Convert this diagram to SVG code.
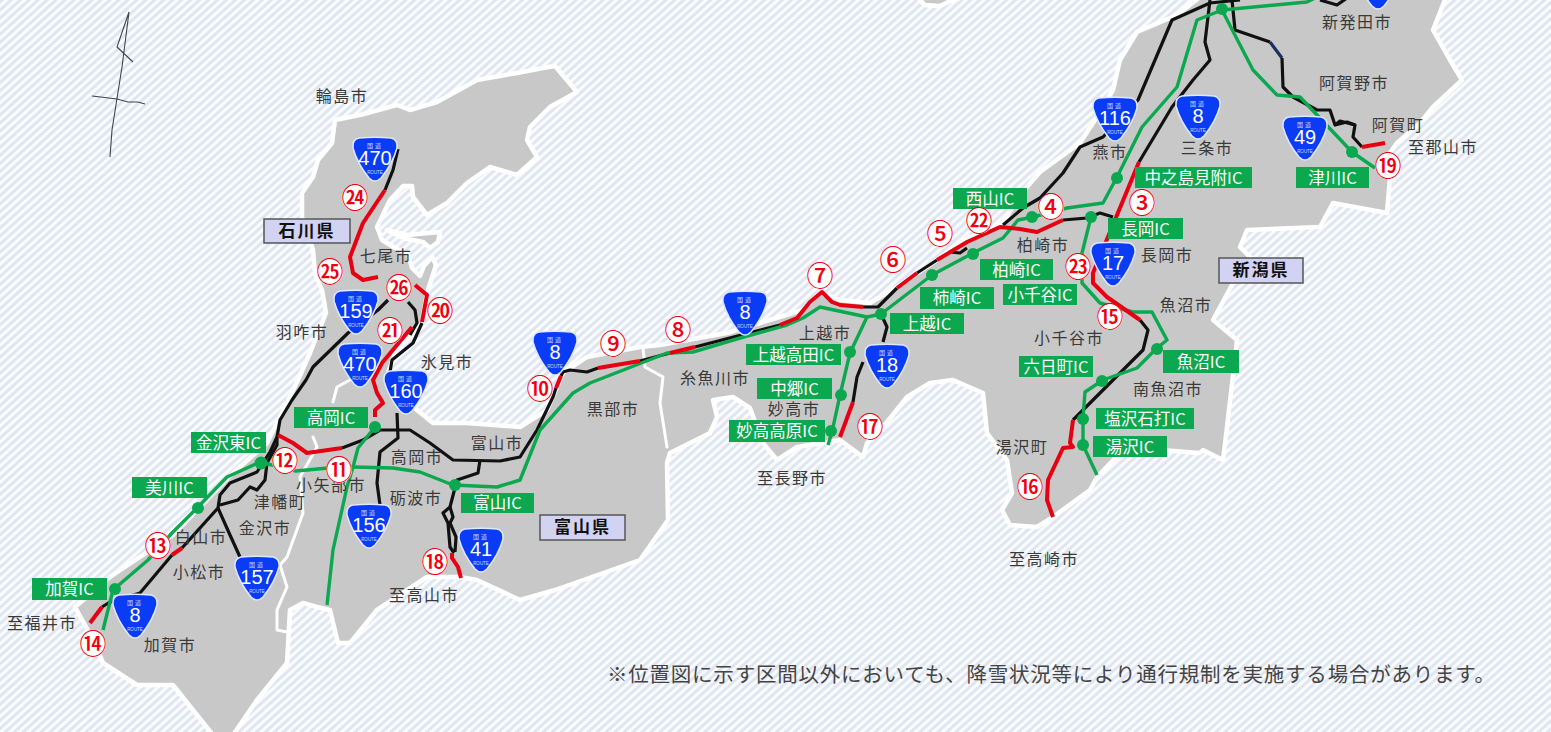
<svg xmlns="http://www.w3.org/2000/svg" width="1551" height="732" viewBox="0 0 1551 732">
<style>
.land{fill:#c8c8c8;stroke:#fff;stroke-width:4.500;stroke-linejoin:round}
.border{fill:none;stroke:#fff;stroke-width:3;stroke-linejoin:round;stroke-linecap:round}
.rd{fill:none;stroke-linejoin:round;stroke-linecap:butt}
.k{stroke:#111;stroke-width:3.2}
.r{stroke:#e60012;stroke-width:4}
.g{stroke:#0ba84f;stroke-width:3.4}
.dot{fill:#0ba84f}
.ic rect{fill:#0ba84f}
.ic text{fill:#fff;font:16.5px "Noto Sans CJK JP","Noto Sans",sans-serif;text-anchor:middle}
.city{fill:#3a3a3a;font:16px "Noto Sans CJK JP",sans-serif;text-anchor:middle;letter-spacing:1.5px}
.pref rect{fill:#d2d2f2;stroke:#555;stroke-width:1.5}
.pref text{fill:#111;font:bold 17px "Noto Sans CJK JP",sans-serif;text-anchor:middle;letter-spacing:2px}
.num circle{fill:#fff}
.num text{fill:#f00010;font:500 27px "Noto Sans CJK JP",sans-serif;text-anchor:middle}
.sh use{fill:#0a3cf5;stroke:#dfe8ff;stroke-width:1.5}
.sh text{fill:#fff;font-family:"Liberation Sans",sans-serif;text-anchor:middle}
.sh .n{font-size:20px}
.sh .t{font:6px "Noto Sans CJK JP",sans-serif;letter-spacing:2px;fill:#cfdcff}
.sh .b{font-size:4.5px;fill:#cfdcff}
</style>
<defs>
<pattern id="hatch" width="6" height="6" patternUnits="userSpaceOnUse" patternTransform="rotate(-42)">
<rect width="6" height="6" fill="#fafbfd"/><rect width="6" height="3" fill="#dfe6f2"/>
</pattern>
<path id="shield" d="M-16,-22 Q0,-23.500 16,-22 Q23,-20.500 22,-12 Q18,3 6,18 Q0,24 -6,18 Q-18,3 -22,-12 Q-23,-20.500 -16,-22Z"/>
</defs>
<rect width="1551" height="732" fill="url(#hatch)"/>

<g id="land">
<path class="land" d="M917,-3 L925,5 L940,6 L948,2 L963,-3Z"/>
<path class="land" d="M213,735 L173,685 L137,685 L103,663 L96,645 L75,607 L110,577 L173,535 L233,473 L267,443 L277,423 L298,380 L310,353 L326,313 L322,290 L315,273 L313,250 L302,217 L302,193 L313,177 L318,160 L332,143 L335,120 L360,115 L397,105 L410,110 L437,102 L477,80 L517,73 L543,68 L555,66 L577,92 L550,107 L530,127 L527,140 L537,157 L517,175 L490,167 L467,183 L447,203 L427,215 L413,197 L412,186 L403,186 L390,200 L377,227 L382,240 L395,248 L408,254 L412,268 L420,276 L424,266 L432,257 L436,265 L427,293 L422,323 L397,347 L388,373 L400,395 L417,410 L433,423 L467,423 L520,427 L547,410 L563,373 L587,357 L640,347 L660,345 L727,333 L803,310 L820,293 L840,300 L870,303 L897,287 L937,260 L963,240 L1003,223 L1020,195 L1040,172 L1080,143 L1093,123 L1113,90 L1120,60 L1137,32 L1177,15 L1200,-3 L1446,-3 L1433,30 L1450,60 L1462,80 L1433,107 L1420,123 L1397,143 L1387,157 L1390,177 L1387,213 L1333,203 L1320,227 L1247,230 L1240,247 L1260,267 L1233,283 L1213,320 L1237,340 L1236,350 L1227,427 L1223,460 L1203,450 L1200,453 L1120,447 L1120,453 L1097,477 L1090,490 L1053,517 L1037,527 L1010,525 L1002,510 L1012,493 L1007,460 L987,433 L983,393 L953,380 L930,383 L907,397 L883,427 L867,443 L863,457 L840,440 L797,447 L777,460 L763,443 L750,408 L733,397 L713,400 L717,417 L710,433 L670,453 L667,463 L668,520 L640,560 L555,590 L520,600 L477,580 L460,577 L427,577 L377,610 L350,643 L338,643 L330,610 L317,607 L303,603 L290,610 L287,663 L257,700 L233,735Z"/>
<path class="land" d="M387,230 L407,235 L440,232 L438,242 L430,248 L423,242 L403,238Z"/>
<path class="border" d="M333,402 L337,387 L350,380 M313,437 L317,447 L300,477 L303,513 L287,557 L280,565 L287,587 L277,610 L277,630 L287,632 M643,348 L645,367 L663,377 L660,403 L667,447"/>
</g>

<g id="connectors">
<g class="rd k">
<path d="M102,607 L110,602 L140,593 L172,555"/>
<path d="M182,548 L218,508 L220,495 L230,483 L257,472 L270,452 L277,437 L280,420 L292,400 L306,380 L313,367 L348,333 L378,310 L388,300"/>
<path d="M408,302 L415,310 L417,323 L410,335"/>
<path d="M422,323 L413,343 L392,360 L390,372"/>
<path d="M398,149 L393,170 L385,190"/>
<path d="M277,437 L277,445 L267,463 L265,480 L257,490 L250,487 L238,500 L220,505"/>
<path d="M218,508 L230,535 L240,557"/>
<path d="M342,448 L363,440 L380,430 L410,430 L430,443 L453,460 L500,461 L520,457 L537,430 L553,397 L556,388"/>
<path d="M561,376 L563,372 L570,370 L587,372 L598,368"/>
<path d="M640,361 L670,353"/>
<path d="M695,347 L780,325"/>
<path d="M863,307 L878,307 L897,288"/>
<path d="M917,273 L937,260"/>
<path d="M950,252 L960,253 L967,248"/>
<path d="M1063,220 L1087,218 L1100,213 L1113,217"/>
<path d="M1003,225 L1023,208 L1040,198 L1063,173 L1080,147 L1103,137 L1138,100 L1172,20 L1210,3 L1240,0"/>
<path d="M1139,162 L1172,107 L1193,80 L1210,60 L1205,42 L1210,0"/>
<path d="M1140,320 L1148,330 L1143,350 L1110,383 L1073,420"/>
<path d="M1232,0 L1235,30 L1270,42"/>
<path d="M1282,58 L1283,87 L1293,97 L1317,110 L1330,110 L1335,125 L1347,122 L1355,125 L1353,137 L1362,147"/>
<path d="M1335,125 L1340,121 L1355,125"/>
<path d="M1320,0 L1337,5 L1347,-2"/>
<path d="M397,413 L398,438 L380,452 L377,483 L380,505"/>
<path d="M480,460 L478,473 L457,480 L450,507 L443,513 L448,523 L450,547 L454,553"/>
<path d="M450,507 L453,517 L450,523 L456,537 L455,552"/>
<path d="M881,314 L887,327 L883,342"/>
<path d="M863,362 L857,377 L853,402"/>
</g>
<path class="rd" stroke="#1a3060" stroke-width="3.200" d="M1270,42 L1282,58"/>
<g class="rd g">
<path d="M103,630 L113,590 L148,560 L172,533 L197,508 L227,477 L260,462 L296,471 L339,467 L353,467 L393,468 L420,472 L453,485 L497,487 L520,480 L540,430 L573,393 L590,383 L667,353 L693,352 L740,338 L787,325 L803,318 L820,307 L867,317 L881,314 L932,275 L973,253 L1003,238 L1018,220 L1033,217 L1067,208 L1103,203 L1117,177 L1142,127 L1177,87 L1197,20 L1222,10 L1307,2 L1315,-2"/>
<path d="M375,427 L358,448 L353,467 L347,487 L333,550 L327,605"/>
<path d="M867,317 L850,353 L840,395 L832,432 L828,445"/>
<path d="M1091,217 L1082,253 L1082,283 L1100,303 L1133,312 L1152,312 L1167,340 L1157,348 L1137,368 L1103,380 L1085,392 L1083,418 L1083,445 L1097,475"/>
<path d="M1222,10 L1253,70 L1277,95 L1300,97 L1352,152 L1375,168"/>
</g>
<g class="rd r">
<path d="M90,623 L102,607"/>
<path d="M172,555 L182,548"/>
<path d="M278,435 L293,443 L307,453 L342,448"/>
<path d="M415,285 L427,295 L422,322"/>
<path d="M412,327 L382,363 L373,380 L377,393 L383,403 L375,410 L375,417"/>
<path d="M385,190 L363,223 L350,257 L353,273 L363,280 L378,277"/>
<path d="M556,388 L561,376"/>
<path d="M598,368 L640,361"/>
<path d="M670,353 L695,347"/>
<path d="M780,325 L797,318 L810,302 L822,292 L832,302 L840,305 L863,307"/>
<path d="M897,288 L917,273"/>
<path d="M937,260 L967,242 L1000,227 L1020,229 L1037,232 L1063,220"/>
<path d="M1139,162 L1093,273 L1093,283 L1107,297 L1140,320"/>
<path d="M1073,420 L1070,443 L1073,447 L1063,448 L1048,480 L1047,500 L1053,517"/>
<path d="M853,402 L840,437"/>
<path d="M452,553 L452,558 L458,567 L461,578"/>
<path d="M1362,147 L1385,143"/>
</g>
</g>

<g id="north-arrow" fill="none" stroke="#444" stroke-width="1.100">
<path d="M110,157 L112,130 L122,67 L129,12 L117,47 L133,62"/>
<path d="M92,96 L117,99 L128,102 L138,102 L145,104"/>
</g>

<g id="ic-dots" class="dot">
<circle cx="375" cy="427" r="6"/><circle cx="261" cy="463" r="6.500"/><circle cx="198" cy="508" r="6"/><circle cx="115" cy="589" r="6"/><circle cx="455" cy="485" r="6"/><circle cx="881" cy="314" r="6"/><circle cx="932" cy="275" r="6"/><circle cx="850" cy="352" r="6"/><circle cx="841" cy="395" r="6"/><circle cx="831" cy="431" r="6"/><circle cx="1032" cy="217" r="6"/><circle cx="973" cy="254" r="6"/><circle cx="1091" cy="217" r="6"/><circle cx="1117" cy="178" r="6"/><circle cx="1157" cy="349" r="6"/><circle cx="1102" cy="381" r="6"/><circle cx="1083" cy="419" r="6"/><circle cx="1083" cy="445" r="6"/><circle cx="1352" cy="152" r="6"/><circle cx="1222" cy="9" r="6"/>
</g>

<g id="shields">
<g class="sh" transform="translate(375,160)"><use href="#shield"/><text class="t" y="-12">国道</text><text class="n" y="5">470</text><text class="b" y="14">ROUTE</text></g>
<g class="sh" transform="translate(356,313)"><use href="#shield"/><text class="t" y="-12">国道</text><text class="n" y="5">159</text><text class="b" y="14">ROUTE</text></g>
<g class="sh" transform="translate(360,366)"><use href="#shield"/><text class="t" y="-12">国道</text><text class="n" y="5">470</text><text class="b" y="14">ROUTE</text></g>
<g class="sh" transform="translate(406,393)"><use href="#shield"/><text class="t" y="-12">国道</text><text class="n" y="5">160</text><text class="b" y="14">ROUTE</text></g>
<g class="sh" transform="translate(135,617)"><use href="#shield"/><text class="t" y="-12">国道</text><text class="n" y="5">8</text><text class="b" y="14">ROUTE</text></g>
<g class="sh" transform="translate(257,579)"><use href="#shield"/><text class="t" y="-12">国道</text><text class="n" y="5">157</text><text class="b" y="14">ROUTE</text></g>
<g class="sh" transform="translate(369,527)"><use href="#shield"/><text class="t" y="-12">国道</text><text class="n" y="5">156</text><text class="b" y="14">ROUTE</text></g>
<g class="sh" transform="translate(481,551)"><use href="#shield"/><text class="t" y="-12">国道</text><text class="n" y="5">41</text><text class="b" y="14">ROUTE</text></g>
<g class="sh" transform="translate(555,354)"><use href="#shield"/><text class="t" y="-12">国道</text><text class="n" y="5">8</text><text class="b" y="14">ROUTE</text></g>
<g class="sh" transform="translate(745,314)"><use href="#shield"/><text class="t" y="-12">国道</text><text class="n" y="5">8</text><text class="b" y="14">ROUTE</text></g>
<g class="sh" transform="translate(887,367)"><use href="#shield"/><text class="t" y="-12">国道</text><text class="n" y="5">18</text><text class="b" y="14">ROUTE</text></g>
<g class="sh" transform="translate(1113,265)"><use href="#shield"/><text class="t" y="-12">国道</text><text class="n" y="5">17</text><text class="b" y="14">ROUTE</text></g>
<g class="sh" transform="translate(1115,120)"><use href="#shield"/><text class="t" y="-12">国道</text><text class="n" y="5">116</text><text class="b" y="14">ROUTE</text></g>
<g class="sh" transform="translate(1198,118)"><use href="#shield"/><text class="t" y="-12">国道</text><text class="n" y="5">8</text><text class="b" y="14">ROUTE</text></g>
<g class="sh" transform="translate(1305,139)"><use href="#shield"/><text class="t" y="-12">国道</text><text class="n" y="5">49</text><text class="b" y="14">ROUTE</text></g>
<g class="sh" transform="translate(1378,-12)"><use href="#shield"/></g>
</g>

<g id="ic-labels">
<g class="ic" id="ic-takaoka"><rect x="294" y="407" width="74" height="21"/><text x="331" y="423.500">高岡IC</text></g>
<g class="ic" id="ic-kanazawahigashi"><rect x="191" y="432" width="75" height="21"/><text x="228.500" y="448.500">金沢東IC</text></g>
<g class="ic" id="ic-mikawa"><rect x="132" y="477" width="75" height="21"/><text x="169.500" y="493.500">美川IC</text></g>
<g class="ic" id="ic-kaga"><rect x="32" y="578" width="75" height="22"/><text x="69.500" y="595">加賀IC</text></g>
<g class="ic" id="ic-toyama"><rect x="461" y="493" width="73" height="20"/><text x="497.500" y="509">富山IC</text></g>
<g class="ic" id="ic-joetsu"><rect x="890" y="313" width="74" height="21"/><text x="927" y="329.500">上越IC</text></g>
<g class="ic" id="ic-kakizaki"><rect x="920" y="287" width="74" height="22"/><text x="957" y="304">柿崎IC</text></g>
<g class="ic" id="ic-joetsutakada"><rect x="746" y="344" width="95" height="21"/><text x="793.500" y="360.500">上越高田IC</text></g>
<g class="ic" id="ic-nakago"><rect x="757" y="378" width="75" height="21"/><text x="794.500" y="394.500">中郷IC</text></g>
<g class="ic" id="ic-myoko"><rect x="729" y="420" width="96" height="22"/><text x="777" y="437">妙高高原IC</text></g>
<g class="ic" id="ic-nishiyama"><rect x="953" y="188" width="74" height="21"/><text x="990" y="204.500">西山IC</text></g>
<g class="ic" id="ic-kashiwazaki"><rect x="980" y="259" width="73" height="21"/><text x="1016.500" y="275.500">柏崎IC</text></g>
<g class="ic" id="ic-ojiya"><rect x="1003" y="284" width="74" height="21"/><text x="1040" y="300.500">小千谷IC</text></g>
<g class="ic" id="ic-nagaoka"><rect x="1108" y="218" width="75" height="21"/><text x="1145.500" y="234.500">長岡IC</text></g>
<g class="ic" id="ic-nakanoshima"><rect x="1135" y="167" width="117" height="21"/><text x="1193.500" y="183.500">中之島見附IC</text></g>
<g class="ic" id="ic-uonuma"><rect x="1163" y="350" width="76" height="23"/><text x="1201" y="367.500">魚沼IC</text></g>
<g class="ic" id="ic-muikamachi"><rect x="1019" y="356" width="74" height="21"/><text x="1056" y="372.500">六日町IC</text></g>
<g class="ic" id="ic-shiozawa"><rect x="1096" y="408" width="98" height="21"/><text x="1145" y="424.500">塩沢石打IC</text></g>
<g class="ic" id="ic-yuzawa"><rect x="1093" y="436" width="74" height="21"/><text x="1130" y="452.500">湯沢IC</text></g>
<g class="ic" id="ic-tsugawa"><rect x="1296" y="167" width="73" height="21"/><text x="1332.500" y="183.500">津川IC</text></g>
</g>

<g id="cities" class="city">
<text x="342" y="102">輪島市</text><text x="386" y="262">七尾市</text><text x="302" y="338">羽咋市</text><text x="447" y="368">氷見市</text><text x="497" y="449">富山市</text><text x="417" y="463">高岡市</text><text x="331" y="491">小矢部市</text><text x="416" y="504">砺波市</text><text x="280" y="508">津幡町</text><text x="265" y="534">金沢市</text><text x="201" y="543">白山市</text><text x="199" y="578">小松市</text><text x="42" y="629">至福井市</text><text x="170" y="651">加賀市</text><text x="424" y="601">至高山市</text><text x="613" y="415">黒部市</text><text x="715" y="384">糸魚川市</text><text x="825" y="339">上越市</text><text x="794" y="415">妙高市</text><text x="792" y="484">至長野市</text><text x="1043" y="251">柏崎市</text><text x="1069" y="344">小千谷市</text><text x="1186" y="311">魚沼市</text><text x="1168" y="395">南魚沼市</text><text x="1022" y="453">湯沢町</text><text x="1044" y="565">至高崎市</text><text x="1167" y="261">長岡市</text><text x="1110" y="158">燕市</text><text x="1207" y="154">三条市</text><text x="1357" y="28">新発田市</text><text x="1354" y="89">阿賀野市</text><text x="1398" y="131">阿賀町</text><text x="1443" y="153">至郡山市</text>
</g>

<g id="prefs">
<g class="pref" id="pref-ishikawa"><rect x="264" y="219" width="86" height="24"/><text x="307" y="237">石川県</text></g>
<g class="pref" id="pref-niigata"><rect x="1219" y="258" width="84" height="25"/><text x="1261" y="276">新潟県</text></g>
<g class="pref" id="pref-toyama"><rect x="540" y="515" width="85" height="25"/><text x="582.500" y="533">富山県</text></g>
</g>

<g id="numbers" class="num">
<g><circle cx="1142" cy="203" r="13"/><text x="1142" y="213">③</text></g>
<g><circle cx="1051" cy="207" r="13"/><text x="1051" y="217">④</text></g>
<g><circle cx="940" cy="234" r="13"/><text x="940" y="244">⑤</text></g>
<g><circle cx="893" cy="260" r="13"/><text x="893" y="270">⑥</text></g>
<g><circle cx="820" cy="276" r="13"/><text x="820" y="286">⑦</text></g>
<g><circle cx="678" cy="330" r="13"/><text x="678" y="340">⑧</text></g>
<g><circle cx="613" cy="344" r="13"/><text x="613" y="354">⑨</text></g>
<g><circle cx="540" cy="389" r="13"/><text x="540" y="399">⑩</text></g>
<g><circle cx="339" cy="470" r="13"/><text x="339" y="480">⑪</text></g>
<g><circle cx="285" cy="461" r="13"/><text x="285" y="471">⑫</text></g>
<g><circle cx="158" cy="546" r="13"/><text x="158" y="556">⑬</text></g>
<g><circle cx="93" cy="644" r="13"/><text x="93" y="654">⑭</text></g>
<g><circle cx="1110" cy="317" r="13"/><text x="1110" y="327">⑮</text></g>
<g><circle cx="1030" cy="487" r="13"/><text x="1030" y="497">⑯</text></g>
<g><circle cx="870" cy="427" r="13"/><text x="870" y="437">⑰</text></g>
<g><circle cx="435" cy="562" r="13"/><text x="435" y="572">⑱</text></g>
<g><circle cx="1388" cy="166" r="13"/><text x="1388" y="176">⑲</text></g>
<g><circle cx="440" cy="311" r="13"/><text x="440" y="321">⑳</text></g>
<g><circle cx="390" cy="331" r="13"/><text x="390" y="341">㉑</text></g>
<g><circle cx="979" cy="221" r="13"/><text x="979" y="231">㉒</text></g>
<g><circle cx="1078" cy="267" r="13"/><text x="1078" y="277">㉓</text></g>
<g><circle cx="355" cy="198" r="13"/><text x="355" y="208">㉔</text></g>
<g><circle cx="330" cy="272" r="13"/><text x="330" y="282">㉕</text></g>
<g><circle cx="399" cy="288" r="13"/><text x="399" y="298">㉖</text></g>
</g>

<text id="note" x="607" y="682" font-family="'Noto Sans CJK JP',sans-serif" font-size="20.500" fill="#444" textLength="888" lengthAdjust="spacing">※位置図に示す区間以外においても、降雪状況等により通行規制を実施する場合があります。</text>
</svg>
